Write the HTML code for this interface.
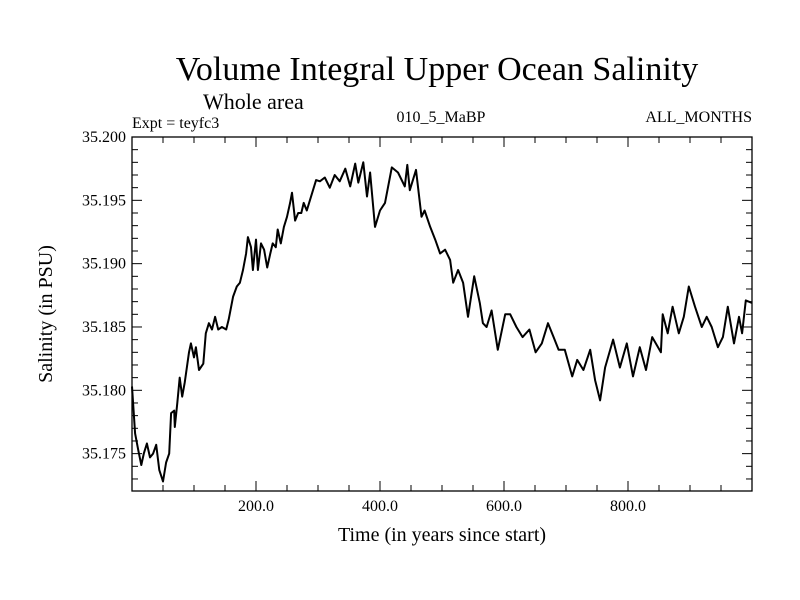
<!DOCTYPE html>
<html><head><meta charset="utf-8"><style>
html,body{margin:0;padding:0;background:#fff;}
svg{display:block;font-family:"Liberation Serif",serif;}
</style></head><body>
<svg id="chart" width="800" height="600" viewBox="0 0 800 600">
<text x="437" y="80" font-size="34" text-anchor="middle">Volume Integral Upper Ocean Salinity</text>
<text x="203" y="109" font-size="22">Whole area</text>
<text x="132" y="128" font-size="16">Expt = teyfc3</text>
<text x="441" y="122" font-size="16" text-anchor="middle">010_5_MaBP</text>
<text x="752" y="122" font-size="16" text-anchor="end">ALL_MONTHS</text>
<text x="442" y="541" font-size="20" text-anchor="middle">Time (in years since start)</text>
<text x="0" y="0" font-size="20" text-anchor="middle" transform="translate(52,314) rotate(-90)">Salinity (in PSU)</text>
<g id="axes"></g>
<g id="series"></g>
</svg>
<script>
const years=[0,5,10,15,19,24,29,34,39,44,48,50,55,60,63,68,69,73,77,81,85,92,95,100,103,108,115,119,124,129,134,139,145,152,156,163,169,174,179,184,187,192,195,200,203,208,213,218,223,227,232,235,240,245,250,255,258,263,268,273,277,282,287,292,297,303,311,319,327,335,344,352,360,365,373,379,384,392,400,408,419,429,440,444,448,458,467,472,481,489,497,505,513,518,526,534,542,552,561,566,572,580,590,602,610,620,630,641,651,661,671,680,688,698,710,718,728,739,747,755,763,776,787,798,808,819,829,839,853,856,864,872,882,890,898,908,919,927,935,945,953,961,971,979,984,990,1000];
const salinity=[35.1803,35.1766,35.1753,35.1741,35.1750,35.1758,35.1747,35.1750,35.1757,35.1737,35.1731,35.1728,35.1743,35.1750,35.1782,35.1784,35.1771,35.1790,35.1810,35.1795,35.1806,35.1830,35.1837,35.1826,35.1834,35.1816,35.1821,35.1845,35.1853,35.1848,35.1858,35.1848,35.1850,35.1848,35.1856,35.1874,35.1882,35.1885,35.1895,35.1908,35.1921,35.1913,35.1895,35.1919,35.1895,35.1916,35.1911,35.1897,35.1908,35.1916,35.1913,35.1927,35.1916,35.1929,35.1937,35.1948,35.1956,35.1934,35.1940,35.1940,35.1948,35.1942,35.1950,35.1958,35.1966,35.1965,35.1968,35.1960,35.1970,35.1965,35.1975,35.1961,35.1979,35.1964,35.1980,35.1953,35.1972,35.1929,35.1942,35.1948,35.1976,35.1972,35.1961,35.1978,35.1958,35.1974,35.1937,35.1942,35.1929,35.1919,35.1908,35.1911,35.1903,35.1885,35.1895,35.1885,35.1858,35.1890,35.1869,35.1853,35.1850,35.1863,35.1832,35.1860,35.1860,35.1850,35.1842,35.1848,35.1830,35.1837,35.1853,35.1842,35.1832,35.1832,35.1811,35.1824,35.1816,35.1832,35.1808,35.1792,35.1818,35.1840,35.1818,35.1837,35.1811,35.1834,35.1816,35.1842,35.1830,35.1860,35.1845,35.1866,35.1845,35.1858,35.1882,35.1866,35.1850,35.1858,35.1850,35.1834,35.1842,35.1866,35.1837,35.1858,35.1845,35.1871,35.1869];
const xTicks=[200,400,600,800];
const xTickLabels=["200.0","400.0","600.0","800.0"];
const yTicks=[35.175,35.180,35.185,35.190,35.195,35.200];
const yTickLabels=["35.175","35.180","35.185","35.190","35.195","35.200"];

const L=132,R=752,T=137,B=491,xMin=0,xMax=1000,yMin=35.17205,yMax=35.200;
function sx(v){return L+(v-xMin)/(xMax-xMin)*(R-L);}
function sy(v){return B-(v-yMin)/(yMax-yMin)*(B-T);}
const NS="http://www.w3.org/2000/svg";
const axes=document.getElementById('axes');
function mk(tag,attrs,parent){const e=document.createElementNS(NS,tag);for(const k in attrs)e.setAttribute(k,attrs[k]);parent.appendChild(e);return e;}
const frame=mk('rect',{x:L,y:T,width:R-L,height:B-T,fill:'none',stroke:'#000','stroke-width':1.3},axes);


// x minor/major ticks
for(let v=50;v<1000;v+=50){
  const major=v%200===0;const len=major?10:6;const x=sx(v);
  const t1=mk('line',{x1:x,y1:B,x2:x,y2:B-len,stroke:'#000','stroke-width':1},axes);
  
  
  const t2=mk('line',{x1:x,y1:T,x2:x,y2:T+len,stroke:'#000','stroke-width':1},axes);
  
  
}
xTicks.forEach((v,i)=>{
  const t=mk('text',{x:sx(v),y:B+20,'font-size':16,'text-anchor':'middle'},axes);
  t.textContent=xTickLabels[i];
  
  
});
for(let k=0;k<=27;k++){
  const v=35.200-k*0.001;if(v<yMin)break;
  const major=k%5===0;const len=major?10:6;const y=sy(v);
  const t1=mk('line',{x1:L,y1:y,x2:L+len,y2:y,stroke:'#000','stroke-width':1},axes);
  
  
  const t2=mk('line',{x1:R,y1:y,x2:R-len,y2:y,stroke:'#000','stroke-width':1},axes);
  
  
}
yTicks.forEach((v,i)=>{
  const t=mk('text',{x:L-6,y:sy(v)+5,'font-size':16,'text-anchor':'end'},axes);
  t.textContent=yTickLabels[i];
  
  
});
const d=years.map((yr,i)=>(i?'L':'M')+sx(yr).toFixed(1)+','+sy(salinity[i]).toFixed(1)).join(' ');
const line=mk('path',{d:d,fill:'none',stroke:'#000','stroke-width':2,'stroke-linejoin':'round'},document.getElementById('series'));


</script>
</body></html>
